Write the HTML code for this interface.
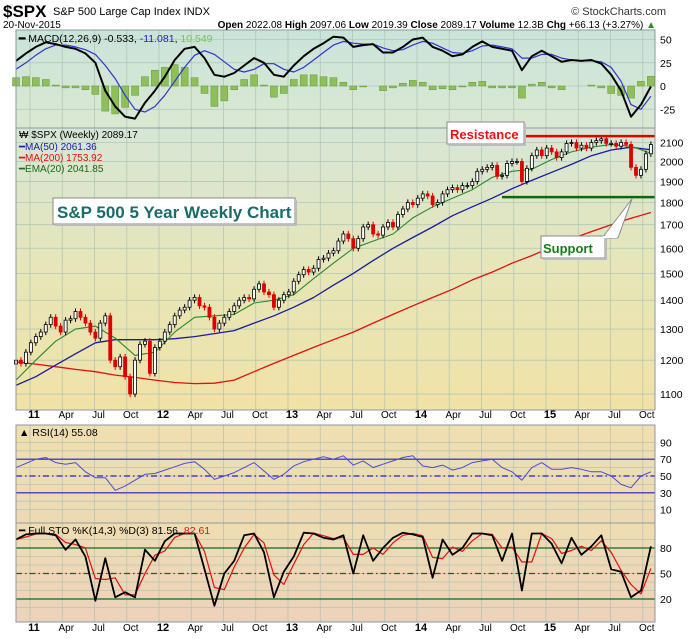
<!DOCTYPE html>
<html><head><meta charset="utf-8">
<style>
html,body{margin:0;padding:0;background:#fff;}
svg{display:block;font-family:"Liberation Sans",sans-serif;}
</style></head>
<body>
<svg id="chart" width="700" height="639" viewBox="0 0 700 639">
<defs>
<linearGradient id="gMacd" x1="0" y1="0" x2="0" y2="1"><stop offset="0" stop-color="#c9e4d9"/><stop offset="1" stop-color="#dbe8d2"/></linearGradient>
<linearGradient id="gPrice" x1="0" y1="0" x2="0" y2="1"><stop offset="0" stop-color="#d6e6d6"/><stop offset="0.5" stop-color="#e6e6b8"/><stop offset="1" stop-color="#f1e2a6"/></linearGradient>
<linearGradient id="gRsi" x1="0" y1="0" x2="0" y2="1"><stop offset="0" stop-color="#f0dfb0"/><stop offset="1" stop-color="#ecdab4"/></linearGradient>
<linearGradient id="gSto" x1="0" y1="0" x2="0" y2="1"><stop offset="0" stop-color="#efddb2"/><stop offset="1" stop-color="#ecd2bb"/></linearGradient>
</defs>
<g id="layer"></g>
<text x="3" y="17" font-size="17" font-weight="bold">$SPX</text>
<text x="53" y="15" font-size="11">S&amp;P 500 Large Cap Index  INDX</text>
<text x="666" y="15" font-size="11" text-anchor="end" fill="#333">© StockCharts.com</text>
<text x="3" y="28" font-size="10">20-Nov-2015</text>
<text x="656" y="28" font-size="10" text-anchor="end"><tspan font-weight="bold">Open</tspan> 2022.08 <tspan font-weight="bold">High</tspan> 2097.06 <tspan font-weight="bold">Low</tspan> 2019.39 <tspan font-weight="bold">Close</tspan> 2089.17 <tspan font-weight="bold">Volume</tspan> 12.3B <tspan font-weight="bold">Chg</tspan> +66.13 (+3.27%) <tspan fill="#2a8a2a">▲</tspan></text>
</svg>
<script>
// ---------- DATA ----------
const priceClose = [1200,1190,1225,1255,1275,1290,1315,1340,1310,1290,1330,1335,1360,1340,1320,1290,1270,1320,1345,1200,1180,1210,1150,1100,1200,1250,1260,1160,1240,1260,1290,1315,1345,1365,1375,1400,1410,1380,1375,1340,1300,1320,1340,1360,1380,1400,1410,1405,1440,1460,1430,1420,1375,1400,1420,1430,1470,1495,1515,1505,1520,1555,1560,1580,1590,1630,1660,1640,1600,1640,1690,1700,1660,1655,1690,1710,1690,1745,1770,1800,1790,1820,1840,1830,1790,1800,1840,1860,1870,1860,1880,1880,1900,1950,1960,1970,1980,1925,1930,1990,2000,2000,1900,1965,2030,2060,2030,2070,2050,2020,2050,2095,2100,2070,2085,2070,2100,2110,2120,2095,2095,2080,2100,2090,1970,1930,1960,2040,2089];
const ma50 = [1125,1150,1185,1220,1255,1265,1265,1265,1268,1275,1285,1295,1320,1345,1375,1410,1455,1500,1550,1600,1645,1690,1740,1780,1820,1865,1905,1945,1985,2030,2060,2075,2061];
const ma200 = [1195,1188,1180,1172,1165,1155,1148,1140,1133,1130,1131,1140,1165,1190,1215,1240,1265,1290,1320,1350,1380,1410,1440,1475,1505,1540,1570,1605,1640,1670,1700,1728,1754];
const ema20 = [1140,1200,1260,1300,1310,1270,1215,1225,1290,1340,1345,1350,1390,1400,1420,1480,1540,1600,1630,1660,1730,1780,1820,1860,1920,1950,1960,2010,2050,2075,2090,2080,2042];
const macdLine = [27,35,42,47,45,42,40,35,25,-5,-22,-33,-35,-18,-5,10,28,40,42,30,12,10,14,22,30,25,12,10,22,32,40,46,53,52,42,44,45,36,36,42,50,52,42,38,32,34,42,48,42,40,38,17,32,38,32,26,28,27,28,24,12,-5,-33,-20,-0.5];
const macdSignal = [18,25,33,40,44,44,42,39,34,22,8,-10,-25,-28,-22,-10,5,20,33,38,34,26,18,15,18,24,24,18,15,20,28,36,44,48,46,45,45,41,38,39,44,48,46,41,36,35,38,43,44,42,40,30,30,34,34,30,28,27,27,26,20,5,-20,-25,-11];
const rsiVals = [60,65,70,72,66,64,66,55,48,48,33,38,45,52,53,57,61,65,67,58,46,50,54,60,66,56,46,52,62,67,70,73,70,74,63,68,60,64,68,72,74,62,60,63,57,60,66,68,70,60,55,45,60,66,58,58,60,58,55,55,50,40,36,50,55];
const stoK = [90,96,97,97,95,78,90,70,18,68,22,28,22,78,65,88,97,97,97,55,12,50,65,95,97,75,22,52,70,98,97,92,90,95,50,95,65,80,92,98,96,93,45,90,72,80,97,97,95,65,97,30,97,97,85,62,92,72,82,95,55,52,22,30,82];
const resistanceLevel = 2135;
const supportLevel = 1825;
const priceTicks = [2100,2000,1900,1800,1700,1600,1500,1400,1300,1200,1100];
const macdTicks = [50,25,0,-25];
const rsiTicks = [90,70,50,30,10];
const stoTicks = [80,50,20];
const yearLabels = ["11","12","13","14","15"];
const monthLabels = ["Apr","Jul","Oct"];

// ---------- SCALES ----------
const L=16, R=655;
const P={mt:30,mb:128, pt:128,pb:410, rt:425,rb:523, st:523,sb:622};
const xw = w => L + w*2.48;
const xDate = (yr,m) => 30 + (yr-2011 + m/12)*129;
const yPrice = v => 142.5 - (Math.log(v)-Math.log(2100))*389;
const yMacd = v => 86 - v*0.93;
const yRsi = v => 518 - v*0.84;
const ySto = v => 616 - v*0.85;

const NS="http://www.w3.org/2000/svg";
const layer=document.getElementById('layer');
function mk(tag,attrs,parent){const e=document.createElementNS(NS,tag);for(const k in attrs)e.setAttribute(k,attrs[k]);(parent||layer).appendChild(e);return e;}
function txt(x,y,s,attrs,parent){const e=mk('text',Object.assign({x:x,y:y},attrs||{}),parent);e.textContent=s;return e;}

const panels=[['macd-panel',P.mt,P.mb,'url(#gMacd)'],['price-panel',P.pt,P.pb,'url(#gPrice)'],['rsi-panel',P.rt,P.rb,'url(#gRsi)'],['sto-panel',P.st,P.sb,'url(#gSto)']];
panels.forEach(p=>{
  const r=mk('rect',{x:L,y:p[1],width:R-L,height:p[2]-p[1],fill:p[3]});
  
  
});

const gridG=mk('g',{stroke:'#a9bfb4','stroke-width':0.8,opacity:0.8});
for(let yr=2011;yr<=2015;yr++){for(let m=0;m<12;m+=3){const x=xDate(yr,m);if(x>R)continue;
  [[P.mt,P.pb],[P.rt,P.sb]].forEach(s=>mk('line',{x1:x,x2:x,y1:s[0],y2:s[1]},gridG));}}
const xl=xDate(2010,9); [[P.mt,P.pb],[P.rt,P.sb]].forEach(s=>mk('line',{x1:xl,x2:xl,y1:s[0],y2:s[1]},gridG));
priceTicks.forEach(v=>mk('line',{x1:L,x2:R,y1:yPrice(v),y2:yPrice(v)},gridG));
macdTicks.forEach(v=>mk('line',{x1:L,x2:R,y1:yMacd(v),y2:yMacd(v)},gridG));
[10,20,30,40,50,60,70,80,90].forEach(v=>{mk('line',{x1:L,x2:R,y1:yRsi(v),y2:yRsi(v)},gridG);mk('line',{x1:L,x2:R,y1:ySto(v),y2:ySto(v)},gridG);});

function poly(vals,step,yf,color,w,name){
  const pts=vals.map((v,i)=>xw(i*step).toFixed(1)+','+yf(v).toFixed(1)).join(' ');
  const e=mk('polyline',{points:pts,fill:'none',stroke:color,'stroke-width':w,'stroke-linejoin':'round'});
  
  
  return e;
}

const histG=mk('g',{});


macdLine.forEach((v,i)=>{const h=v-macdSignal[i];const x=xw(i*4)-3.5;const y0=yMacd(0),y1=yMacd(h);
  const b=mk('rect',{x:x,y:Math.min(y0,y1),width:7,height:Math.abs(y1-y0),fill:'#8fbf5a',stroke:'#5f9a34','stroke-width':0.5},histG);
  
  
});
poly(macdSignal,4,yMacd,'#3232d0',1.2,'macd-signal-line');
poly(macdLine,4,yMacd,'#000',2,'macd-line');

poly(ma200,8,yPrice,'#e01010',1.3,'ma200-line');
poly(ma50,8,yPrice,'#1a1aa0',1.3,'ma50-line');
poly(ema20,8,yPrice,'#2a8a2a',1.1,'ema20-line');
const candG=mk('g',{});


priceClose.forEach((c,i)=>{
  const o=i>0?priceClose[i-1]:c*0.99;const up=c>=o;const col=up?'#000':'#dd0000';const x=xw(i*2);
  const hi=Math.max(o,c)*1.008, lo=Math.min(o,c)*0.992;
  mk('line',{x1:x,x2:x,y1:yPrice(hi),y2:yPrice(lo),stroke:col,'stroke-width':1},candG);
  const b=mk('rect',{x:x-1.5,y:yPrice(Math.max(o,c)),width:3,height:Math.max(1,yPrice(Math.min(o,c))-yPrice(Math.max(o,c))),fill:up?'#fff':'#dd0000',stroke:col,'stroke-width':0.8},candG);
  
  
});
const rl=mk('line',{x1:524,x2:R,y1:yPrice(resistanceLevel),y2:yPrice(resistanceLevel),stroke:'#e00000','stroke-width':2.5});


const sl=mk('line',{x1:502,x2:R,y1:yPrice(supportLevel),y2:yPrice(supportLevel),stroke:'#0a6a0a','stroke-width':2.5});



[[70,'0'],[30,'0'],[50,'6 3 1.5 3']].forEach(r=>mk('line',{x1:L,x2:R,y1:yRsi(r[0]),y2:yRsi(r[0]),stroke:'#2020d0','stroke-width':1.2,'stroke-dasharray':r[1]}));
poly(rsiVals,4,yRsi,'#4a4ad8',1,'rsi-line');
[[80,'0'],[20,'0'],[50,'6 3 1.5 3']].forEach(r=>mk('line',{x1:L,x2:R,y1:ySto(r[0]),y2:ySto(r[0]),stroke:'#0a6a2a','stroke-width':1.2,'stroke-dasharray':r[1]}));
const stoD=stoK.map((v,i)=>i>0?(v+stoK[i-1])/2:v);
poly(stoD,4,ySto,'#e01010',1.2,'sto-d-line');
poly(stoK,4,ySto,'#000',1.8,'sto-k-line');

panels.forEach(p=>mk('rect',{x:L,y:p[1],width:R-L,height:p[2]-p[1],fill:'none',stroke:'#8a9aa0','stroke-width':1}));

const tg=mk('g',{'font-size':10.5,fill:'#000'});
macdTicks.forEach(v=>txt(660,yMacd(v)+4,String(v),{},tg));
priceTicks.forEach(v=>txt(660,yPrice(v)+4,String(v),{},tg));
rsiTicks.forEach(v=>txt(660,yRsi(v)+4,String(v),{},tg));
stoTicks.forEach(v=>txt(660,ySto(v)+4,String(v),{},tg));

[418,631].forEach((yy,k)=>{
  yearLabels.forEach((s,j)=>{const t=txt(xDate(2011+j,0)+4,yy,s,{'font-size':11,'font-weight':'bold','text-anchor':'middle'});
    
    
    monthLabels.forEach((m,q)=>{const x=xDate(2011+j,(q+1)*3)+4;txt(x,yy,m,{'font-size':10,'text-anchor':'middle'});});
  });
});

const lg=mk('g',{'font-size':10.5});
const m1=txt(19,42,'',{},lg);
m1.innerHTML='<tspan font-weight="bold">━</tspan> MACD(12,26,9) -0.533, <tspan fill="#2020c0">-11.081</tspan>, <tspan fill="#7cc05a">10.549</tspan>';
txt(19,138,'₩ $SPX (Weekly) 2089.17',{'font-size':10},lg);
txt(19,150,'━MA(50) 2061.36',{'font-size':10,fill:'#1a1aa0'},lg);
txt(19,161,'━MA(200) 1753.92',{'font-size':10,fill:'#e01010'},lg);
txt(19,172,'━EMA(20) 2041.85',{'font-size':10,fill:'#1a6a1a'},lg);
txt(19,436,'▲ RSI(14) 55.08',{'font-size':10.5},lg);
const s1=txt(19,534,'',{'font-size':10.5},lg);
s1.innerHTML='━ Full STO %K(14,3) %D(3) 81.56, <tspan fill="#e01010">82.61</tspan>';

function box(x,y,w,h,name){const b=mk('rect',{x:x,y:y,width:w,height:h,fill:'#fff',stroke:'#8a8a8a','stroke-width':1});
  mk('rect',{x:x+2,y:y+h,width:w,height:2,fill:'#bbb'});mk('rect',{x:x+w,y:y+2,width:2,height:h,fill:'#bbb'});
  }
box(53,198,242,26,'chart-title-box');
txt(57,218,'S&P 500 5 Year Weekly Chart',{'font-size':17,'font-weight':'bold',fill:'#1b6b6b'});
box(447,122,77,22,'resistance-label-box');
txt(450,139,'Resistance',{'font-size':13,'font-weight':'bold',fill:'#ee1111'});
mk('polygon',{points:'602,238 632,199 618,238',fill:'#fff',stroke:'#8a8a8a'});
box(541,236,64,22,'support-label-box');
mk('line',{x1:603,x2:617,y1:237,y2:237,stroke:'#fff','stroke-width':2});
txt(543,253,'Support',{'font-size':13,'font-weight':'bold',fill:'#1a7a1a'});
</script>
</body></html>
